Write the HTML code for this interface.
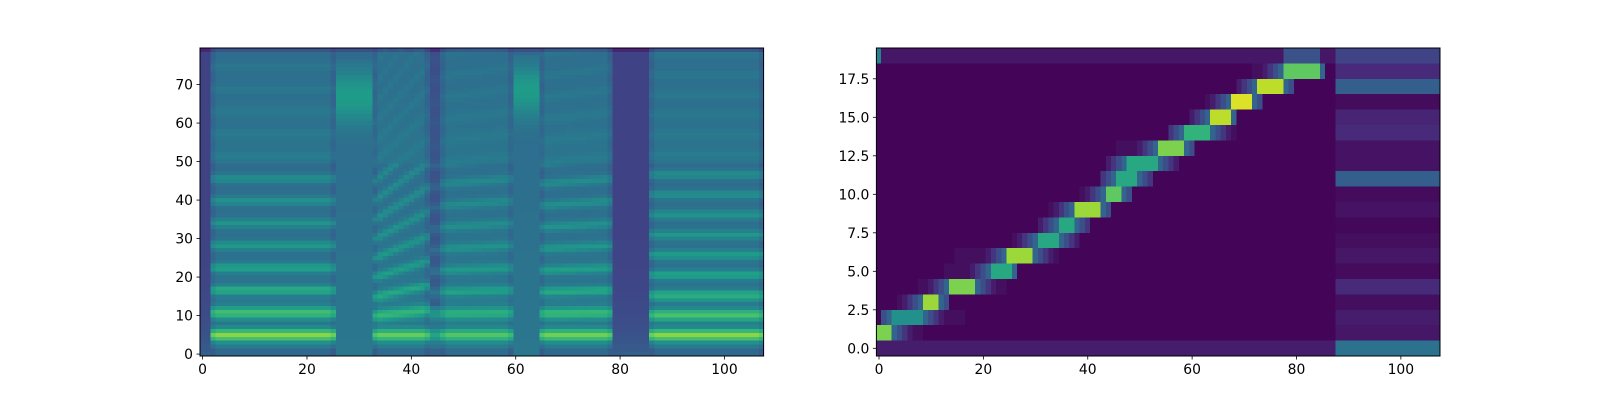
<!DOCTYPE html>
<html><head><meta charset="utf-8">
<style>
html,body{margin:0;padding:0;background:#fff;width:1600px;height:400px;overflow:hidden}
#wrap{position:relative;width:1600px;height:400px}
canvas{position:absolute;image-rendering:pixelated}
svg{position:absolute;left:0;top:0}
text{font-family:"DejaVu Sans","Liberation Sans",sans-serif;font-size:13.9px;fill:#000}
</style></head>
<body>
<div id="wrap">
<canvas id="spec" width="108" height="80" style="left:200px;top:48px;width:563.6px;height:308px"></canvas>
<canvas id="align" width="108" height="20" style="left:876.4px;top:48px;width:563.6px;height:308px"></canvas>
<svg id="ax" width="1600" height="400"></svg>
</div>
<script>
// ---------- spectrogram data (segments over 108 frames, 80 mel bins) ----------
const segStart    = [0, 2, 26, 33, 44, 46, 60, 65, 79, 86];
const segEnd      = [2, 26, 33, 44, 46, 60, 65, 79, 86, 108];
const segType     = ['s','v','u','v','g','v','u','v','s','v'];
const segSpacing  = [0, 5.8, 0, 5.0, 5.5, 5.6, 0, 5.6, 0, 5.2];
const segSpacingEnd=[0, 5.8, 0, 6.5, 5.5, 5.8, 0, 5.8, 0, 5.2];
const segStrength = [0, 1.0, 0, 0.85, 0.5, 0.75, 0, 0.9, 0, 1.0];
const fricLow     = [0, 0, 58, 0, 0, 0, 60, 0, 0, 0];
const fricHigh    = [0, 0, 76, 0, 0, 0, 77, 0, 0, 0];
// ---------- alignment data (20 text positions x 108 decoder frames) ----------
const rowStart     = [0, 0, 1, 4, 8, 13,15,26,31,33,39,43,44,46,56,60,63,69,72, 0];
const rowEnd       = [0, 8,16,13,24, 26,34,38,40,44,48,52,57,60,68,68,73,79,85, 0];
const rowPeakStart = [0, 0, 3, 9,14, 22,25,31,35,38,44,46,48,54,59,64,68,73,78, 0];
const rowPeakEnd   = [0, 2, 8,11,18, 25,29,34,37,42,46,49,53,58,63,67,71,77,84, 0];
const rowPeakVal   = [0,.8,.5,.85,.8,.6,.85,.6,.6,.85,.75,.6,.6,.8,.65,.9,.95,.9,.75,0];
const rowTail      = [.38,.06,.08,.04,.12,.03,.06,.04,.02,.05,.03,.3,.05,.05,.12,.1,.03,.3,.12,.2];
const tailStart = 88;

const vir=[[68,1,84],[72,40,120],[62,74,137],[49,104,142],[38,130,142],[31,158,137],[53,183,121],[110,206,88],[181,222,43],[253,231,37]];
function viridis(t){t=Math.max(0,Math.min(1,t));const x=t*9,i=Math.min(8,Math.floor(x)),f=x-i;const a=vir[i],b=vir[i+1];return `rgb(${a[0]+(b[0]-a[0])*f|0},${a[1]+(b[1]-a[1])*f|0},${a[2]+(b[2]-a[2])*f|0})`;}

function specVal(f,b){
  let s=0; while(s<segStart.length-1 && f>=segEnd[s]) s++;
  const t=segType[s];
  let v;
  if(t==='s'){ v=0.2+0.1*Math.exp(-b/8); }
  else if(t==='u'){
    v=0.4-0.06*b/80;
    if(b>=fricLow[s]-4&&b<=fricHigh[s]){const c=(fricLow[s]+fricHigh[s])/2,hw=(fricHigh[s]-fricLow[s])/2;const d=(b-c)/hw;v+=0.2*Math.exp(-d*d*1.5);}
  } else {
    const p=(f-segStart[s])/Math.max(1,segEnd[s]-segStart[s]);
    const sp=segSpacing[s]+(segSpacingEnd[s]-segSpacing[s])*p, st=segStrength[s];
    v=0.45-0.08*b/80;
    const k=Math.max(0,Math.round((b-5)/sp)), d=(b-5)-k*sp;
    const g=Math.exp(-d*d/(b<15?2.6:1.4));
    const amp=st*(0.45*Math.exp(-b/12)+(b<50?0.08:0.02));
    v+= amp*g - 0.05*st*(b<50?1:0.3)*(1-g);
    if(b<2) v-=0.06;
    if(t==='g') v-=0.08*(b>12?1:0);
    if(f===segStart[s]||f===segEnd[s]-1) v-=0.05;
  }
  if(b===79) v-=0.1;
  return v;
}
const sc=document.getElementById('spec').getContext('2d');
for(let f=0;f<108;f++)for(let b=0;b<80;b++){sc.fillStyle=viridis(specVal(f,b));sc.fillRect(f,79-b,1,1);}

function alignVal(r,f){
  if(f>=tailStart) return rowTail[r];
  if(r===0) return 0.08;
  if(r===19) return f===0?0.45:(f>=78&&f<=84?0.25:0.06);
  if(f>=rowPeakStart[r]&&f<=rowPeakEnd[r]) return rowPeakVal[r];
  if(f>=rowStart[r]&&f<=rowEnd[r]){
    const d=f<rowPeakStart[r]?rowPeakStart[r]-f:f-rowPeakEnd[r];
    return Math.max(0.04,0.4-0.08*d);
  }
  return 0.01;
}
const ac=document.getElementById('align').getContext('2d');
for(let f=0;f<108;f++)for(let r=0;r<20;r++){ac.fillStyle=viridis(alignVal(r,f));ac.fillRect(f,19-r,1,1);}

// ---------- axes ----------
const xTicks=[0,20,40,60,80,100];
const specYTicks=[0,10,20,30,40,50,60,70];
const alignYTicks=[0,2.5,5,7.5,10,12.5,15,17.5];
const NS='http://www.w3.org/2000/svg', svg=document.getElementById('ax');
function el(tag,attrs,txt){const e=document.createElementNS(NS,tag);for(const k in attrs)e.setAttribute(k,attrs[k]);if(txt!==undefined)e.textContent=txt;svg.appendChild(e);return e;}
function drawAxes(x0,prefix,nx,ny,yTicks,fmt){
  const w=563.6,h=308,y0=48;
  const sx=v=>x0+(v+0.5)/nx*w, sy=v=>y0+h-(v+0.5)/ny*h;
  const fr=el('rect',{x:x0,y:y0,width:w,height:h,fill:'none',stroke:'#000','stroke-width':1});
  
  
  xTicks.forEach(v=>{
    const l=el('line',{x1:sx(v),x2:sx(v),y1:y0+h,y2:y0+h+3.5,stroke:'#000','stroke-width':0.8});
    
    
    const t=el('text',{x:sx(v),y:y0+h+18,'text-anchor':'middle'},String(v));
    
    
  });
  yTicks.forEach(v=>{
    const l=el('line',{x1:x0-3.5,x2:x0,y1:sy(v),y2:sy(v),stroke:'#000','stroke-width':0.8});
    
    
    const t=el('text',{x:x0-7,y:sy(v)+5,'text-anchor':'end'},fmt(v));
    
    
  });
}
drawAxes(200,'spectrogram',108,80,specYTicks,v=>String(v));
drawAxes(876.4,'alignment',108,20,alignYTicks,v=>v.toFixed(1));
</script>
</body></html>
